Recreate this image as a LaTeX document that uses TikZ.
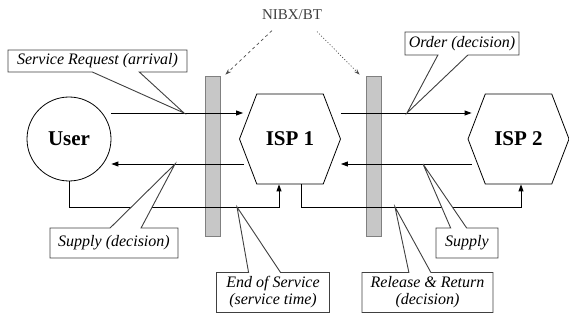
\documentclass[tikz,border=0pt]{standalone}
\usepackage{fontspec}
\setmainfont{Liberation Serif}
\usetikzlibrary{calc, arrows.meta, shapes.symbols, shapes.callouts}

\begin{document}
\begin{tikzpicture}[x=1pt, y=-1pt,
    flow/.style={line width=0.9pt, -{Triangle[length=7pt,width=5pt]}},
    agent/.style={draw, line width=0.8pt, font=\fontsize{21}{24}\selectfont\bfseries},
    hexa/.style={agent, signal, signal to=east and west, signal pointer angle=138,
      minimum width=101pt, minimum height=90pt, inner sep=0pt},
    gate/.style={draw=black!50, fill=black!22, line width=0.7pt,
      minimum width=15pt, minimum height=160pt, inner sep=0pt},
    note/.style={rectangle callout, draw=black!75, fill=white, line width=0.9pt,
      font=\fontsize{16}{17}\selectfont\itshape, inner sep=0pt, align=center},
    hint/.style={black!70, line width=0.7pt, -{Stealth[length=6pt,width=4pt]}}]

  \useasboundingbox (0,0) rectangle (569,323);

  \coordinate (hi) at (0,113);
  \coordinate (lo) at (0,164);
  \coordinate (base) at (0,207);

  \node[gate] (gate1) at (212.5,156) {};
  \node[gate] (gate2) at (373.5,156.5) {};

  \node[agent, circle, minimum size=84pt, inner sep=0pt] (user) at (69,139) {User};
  \node[hexa] (isp1) at (290,139) {ISP 1};
  \node[hexa] (isp2) at (518.5,139) {ISP 2};

  \draw[flow] (user.east |- hi) -- ($(isp1.west |- hi)+(4,0)$);
  \draw[flow] ($(isp1.west |- lo)+(5,0)$) -- (user.east |- lo);
  \draw[flow] (user.south) |- ($(isp1.south |- base)+(-11,0)$) -- ($(isp1.south)+(-11,0)$);

  \draw[flow] (isp1.east |- hi) -- ($(isp2.west |- hi)+(4,0)$);
  \draw[flow] ($(isp2.west |- lo)+(4,0)$) -- (isp1.east |- lo);
  \draw[flow] ($(isp1.south)+(11,0)$) |- ($(isp2.south |- base)+(2.5,0)$) -- ($(isp2.south)+(2.5,0)$);

  \node[font=\fontsize{15}{18}\selectfont, text=black!75] (nibx) at (292,15) {NIBX/BT};
  \draw[hint, dashed] ($(nibx.south)+(-20,7)$) -- ($(gate1.north east)+(5,-1)$);
  \draw[hint, dash pattern=on 1pt off 2pt] ($(nibx.south)+(25,8)$) -- ($(gate2.north west)+(-6,-1.5)$);

  \coordinate (reqtip) at (184,113);
  \coordinate (ordertip) at (407,113);
  \coordinate (supdectip) at (175,164);
  \coordinate (endtip) at (237,207);
  \coordinate (releasetip) at (395,207);
  \coordinate (suptip) at (423,164);

  \node[note, minimum width=179pt, minimum height=22pt, callout absolute pointer={(reqtip)},
    callout pointer width=47pt] (request) at (97.5,61) {Service Request (arrival)};
  \node[note, minimum width=114pt, minimum height=23pt, callout absolute pointer={(ordertip)},
    callout pointer width=30pt] (order) at (462,43.5) {Order (decision)};
  \node[note, minimum width=128pt, minimum height=30pt, callout absolute pointer={(supdectip)},
    callout pointer width=31pt] (supdec) at (114,243) {Supply (decision)};
  \node[note, minimum width=113pt, minimum height=40pt, callout absolute pointer={(endtip)},
    callout pointer width=32pt] (endserv) at (273,292.5) {End of Service\\(service time)};
  \node[note, minimum width=131pt, minimum height=40pt, callout absolute pointer={(releasetip)},
    callout pointer width=22pt] (release) at (427.5,292.5) {Release \& Return\\(decision)};
  \node[note, minimum width=62pt, minimum height=30pt, callout absolute pointer={(suptip)},
    callout pointer width=16pt] (supply) at (467,243) {Supply};
\end{tikzpicture}
\end{document}
